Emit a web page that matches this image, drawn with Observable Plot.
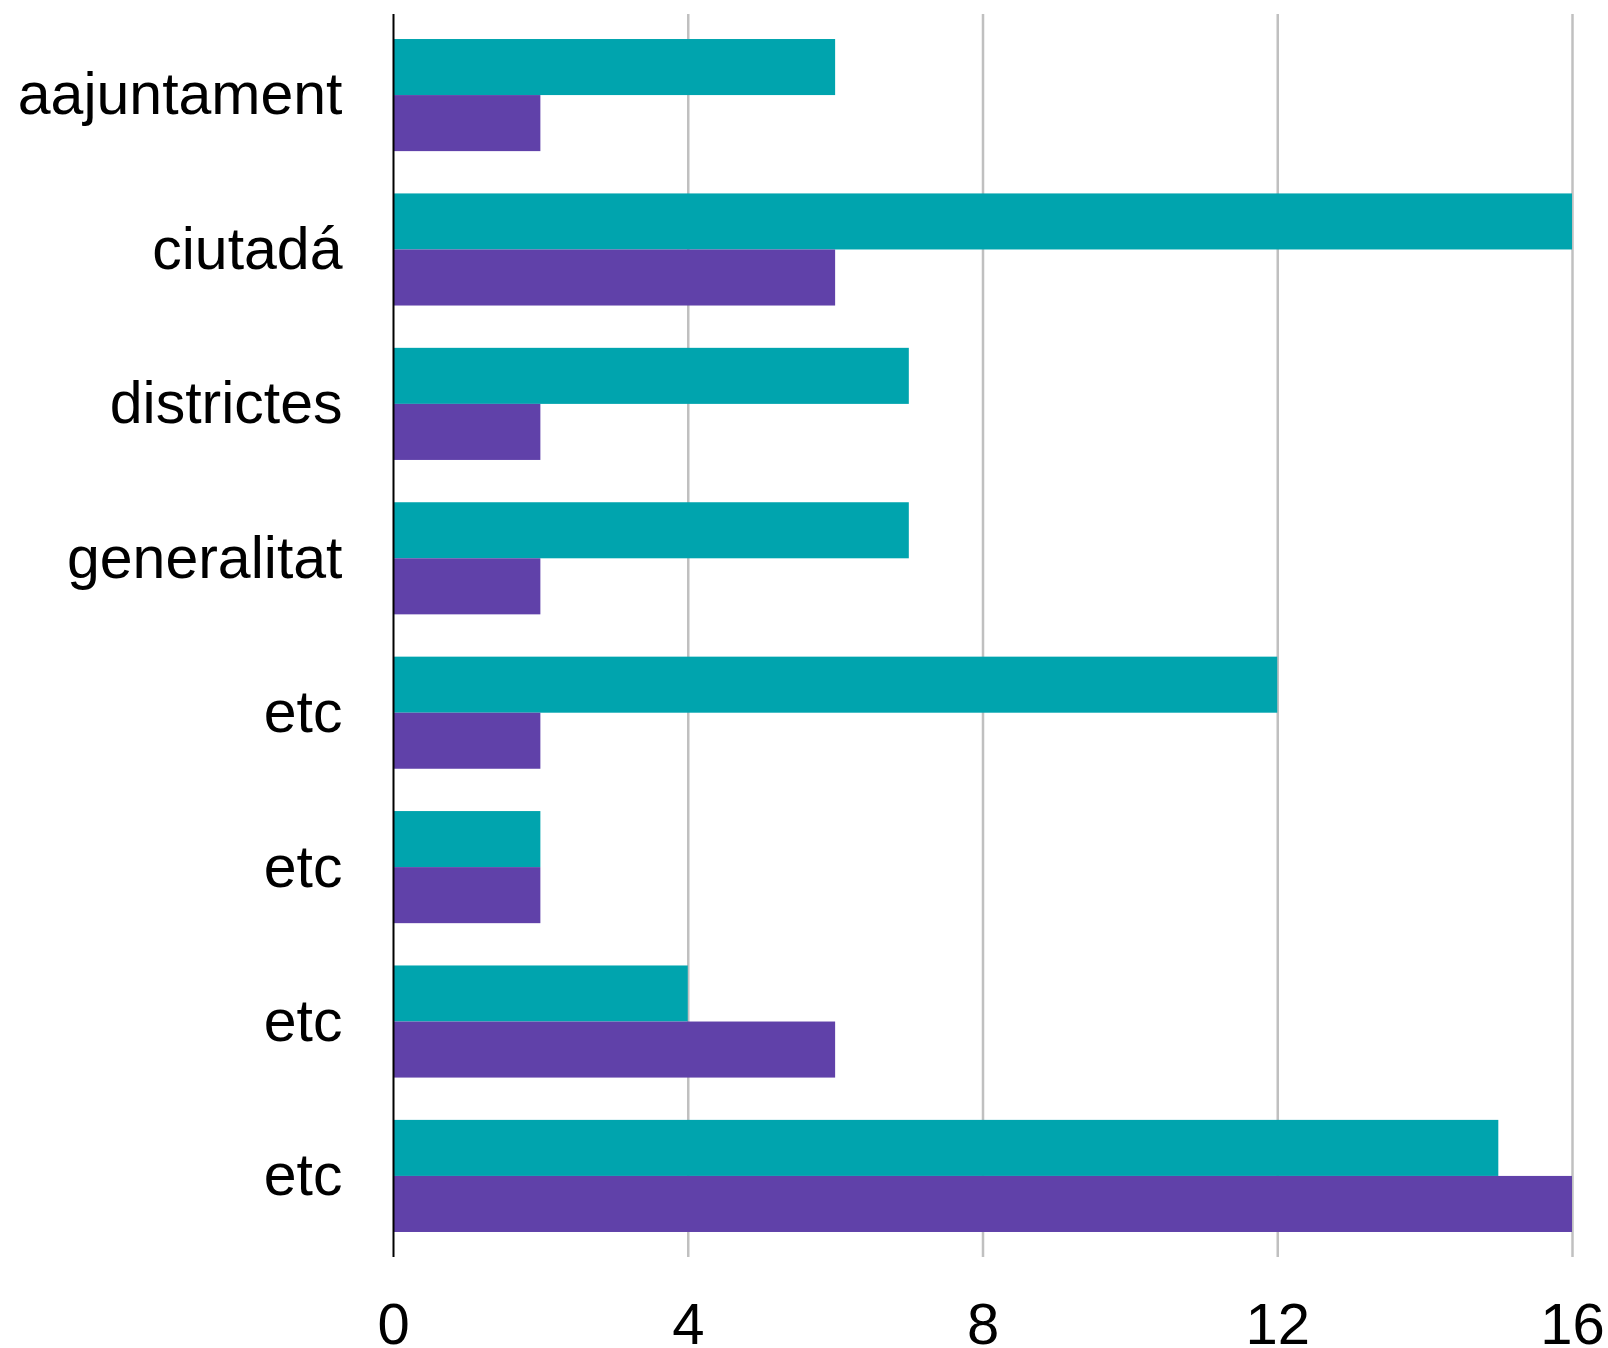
<!DOCTYPE html>
<html><head><meta charset="utf-8">
<script src="https://cdn.jsdelivr.net/npm/d3@7"></script>
<script src="https://cdn.jsdelivr.net/npm/@observablehq/plot@0.6"></script>
<style>html,body{margin:0;padding:0;background:#fff}</style>
</head><body><div id="chart"></div>
<script>
const categories = ["aajuntament", "ciutadá", "districtes", "generalitat", "etc", "etc", "etc", "etc"];
const tealValues = [6, 16, 7, 7, 12, 2, 4, 15];
const purpleValues = [2, 6, 2, 2, 2, 2, 6, 16];
const xTicks = [0, 4, 8, 12, 16];
const seriesNames = ["Series 1", "Series 2"];
const seriesColors = ["#00A4AE", "#6041A9"];

const half = 0.363; // half of a group's thickness, in category units
const rows = [];
categories.forEach((c, i) => {
  rows.push({i, series: seriesNames[0], value: tealValues[i], y1: i - half, y2: i});
  rows.push({i, series: seriesNames[1], value: purpleValues[i], y1: i, y2: i + half});
});

const chart = Plot.plot({
  width: 1608,
  height: 1348,
  marginTop: 14,
  marginBottom: 91,
  marginLeft: 393,
  marginRight: 36,
  style: {fontFamily: "'Liberation Sans', Arial, Helvetica, sans-serif", fontSize: "58px", color: "#000", background: "#fff"},
  x: {domain: [0, 16], ticks: xTicks, tickSize: 0, tickPadding: 45, label: null},
  y: {domain: [-0.525, 7.525], reverse: true, ticks: d3.range(categories.length), tickFormat: i => categories[i], tickSize: 0, tickPadding: 51, label: null},
  color: {type: "ordinal", domain: seriesNames, range: seriesColors},
  marks: [
    Plot.ruleX(xTicks.filter(d => d > 0), {stroke: "#c0c0c0", strokeWidth: 2.5}),
    Plot.rect(rows, {x1: d => 0, x2: "value", y1: "y1", y2: "y2", fill: "series"}),
    Plot.ruleX([0], {stroke: "#000", strokeWidth: 2})
  ]
});
chart.querySelectorAll("g[aria-label='y-axis tick label'] text, g[aria-label='y-axis'] text").forEach(t => t.setAttribute("font-size", "59"));
document.getElementById("chart").appendChild(chart);
</script>
</body></html>
